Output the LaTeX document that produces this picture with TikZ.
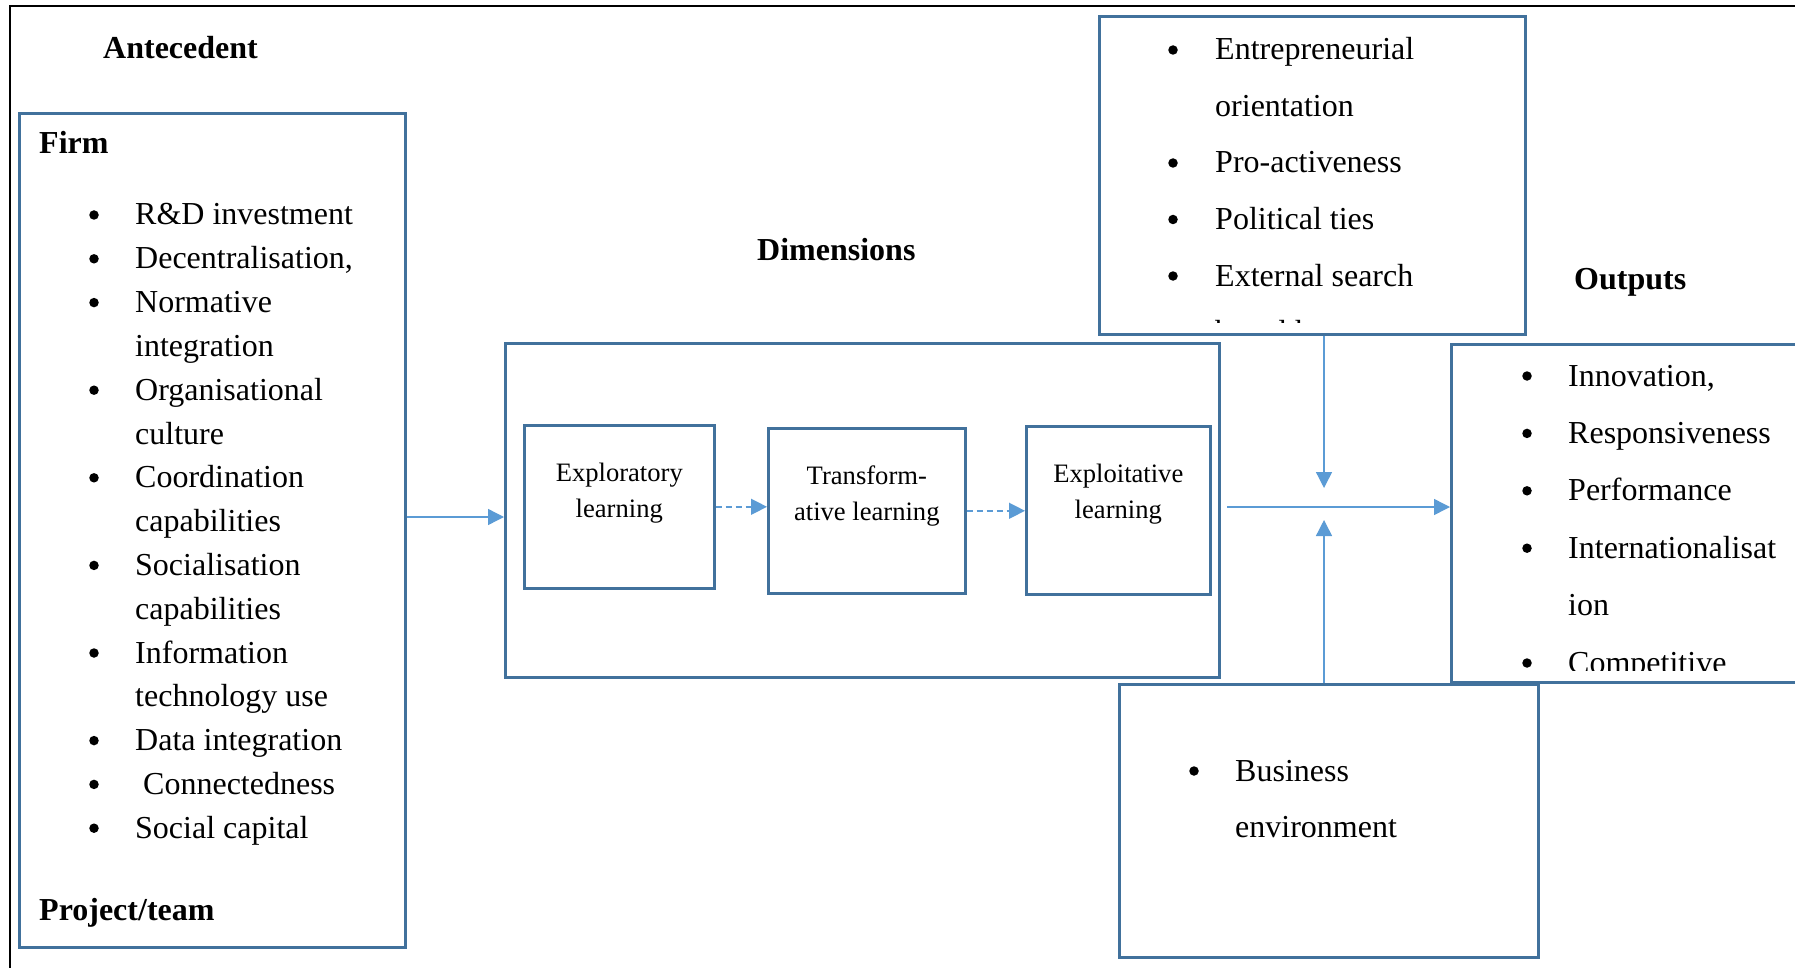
\documentclass[tikz,border=0pt]{standalone}
\usepackage{fontspec}
\setmainfont{Liberation Serif}
\usetikzlibrary{arrows.meta,positioning}
\definecolor{boxblue}{HTML}{41719C}
\definecolor{arrowblue}{HTML}{5B9BD5}
\tikzset{
 panel/.style={draw=boxblue,line width=2.6pt,anchor=north west,inner sep=0pt},
 flow/.style={draw=arrowblue,line width=1.4pt,-{Triangle[length=16pt,width=16pt]}},
 dashflow/.style={flow,dash pattern=on 6pt off 4pt},
 head/.style={anchor=base west,inner sep=0pt,font=\fontsize{32}{38}\selectfont\bfseries},
 entry/.style={anchor=base west,inner sep=0pt,font=\fontsize{32}{38}\selectfont},
 bul/.style={circle,fill,inner sep=0pt,minimum size=9.5pt},
 steptext/.style={anchor=north,align=center,inner sep=0pt,font=\fontsize{26.6}{36}\selectfont}
}

\begin{document}
\begin{tikzpicture}[x=1pt,y=-1pt]
\useasboundingbox (0,0) rectangle (1795,968);
\draw[line width=2.6pt] (10,990) -- (10,6) -- (1820,6);

% antecedent
\node[head] (antlabel) at (103,59) {Antecedent};
\node[panel,minimum width=386,minimum height=834] (firm) at (18,112) {};
\node[head] (firmlabel) at (39,154) {Firm};
\foreach \t [count=\i] in {R\&D investment,{Decentralisation,},Normative,integration,Organisational,culture,Coordination,capabilities,Socialisation,capabilities,Information,technology use,Data integration,\hspace{8pt}Connectedness,Social capital}
 \node[entry] (firm\i) at (135,{225+43.8*(\i-1)}) {\t};
\foreach \i in {1,2,3,5,7,9,11,13,14,15}
 \node[bul] (firmdot\i) at (94,{215+43.8*(\i-1)}) {};
\node[head] (teamlabel) at (39,920) {Project/team};

% dimensions
\node[head] (dimlabel) at (757,261) {Dimensions};
\node[panel,minimum width=714,minimum height=334] (dimbox) at (504,342) {};
\node[panel,minimum width=190,minimum height=163] (explore) at (523,424) {};
\node[panel,minimum width=197,minimum height=165] (transform) at (767,427) {};
\node[panel,minimum width=184,minimum height=168] (exploit) at (1025,425) {};
\node[steptext] (exploretext) at ([yshift=-39pt]explore.north) {Exploratory\\learning};
\node[steptext] (transformtext) at ([yshift=-39pt]transform.north) {Transform-\\ative learning};
\node[steptext] (exploittext) at ([yshift=-39pt]exploit.north) {Exploitative\\learning};

% moderators
\node[panel,minimum width=426,minimum height=318] (ctxbox) at (1098,15) {};
\begin{scope}
\clip (1100,17) rectangle (1522,322);
\foreach \t [count=\i] in {Entrepreneurial,orientation,Pro-activeness,Political ties,External search,breadth}
 \node[entry] (ctx\i) at (1215,{60+56.5*(\i-1)}) {\t};
\end{scope}
\foreach \i in {1,3,4,5}
 \node[bul] (ctxdot\i) at (1173,{50+56.5*(\i-1)}) {};

\node[panel,minimum width=419,minimum height=273] (envbox) at (1118,683) {};
\node[entry] (env1) at (1235,781) {Business};
\node[entry] (env2) at (1235,837) {environment};
\node[bul] (envdot) at (1194,771) {};

% outputs
\node[head] (outlabel) at (1574,289) {Outputs};
\node[panel,minimum width=400,minimum height=338] (outbox) at (1450,343) {};
\begin{scope}
\clip (1452,345) rectangle (1800,670);
\foreach \t [count=\i] in {{Innovation,},Responsiveness,Performance,Internationalisat,ion,Competitive}
 \node[entry] (out\i) at (1568,{386+57.4*(\i-1)}) {\t};
\end{scope}
\foreach \i in {1,2,3,4,6}
 \node[bul] (outdot\i) at (1527,{376+57.4*(\i-1)}) {};

% arrows
\coordinate (feed) at (450,517);
\draw[flow] (firm.east |- feed) -- (dimbox.west |- feed);
\draw[dashflow] (explore.east) -- (explore.east -| transform.west);
\draw[dashflow] (transform.east) -- (transform.east -| exploit.west);
\coordinate (hub) at (1324,507);
\coordinate (hubstart) at (1227,507);
\coordinate (hubtop) at (1324,488);
\coordinate (hubbot) at (1324,520);
\draw[flow] (hubstart) -- (hubstart -| outbox.west);
\draw[flow] (ctxbox.south -| hub) -- (hubtop);
\draw[flow] (envbox.north -| hub) -- (hubbot);
\end{tikzpicture}
\end{document}
